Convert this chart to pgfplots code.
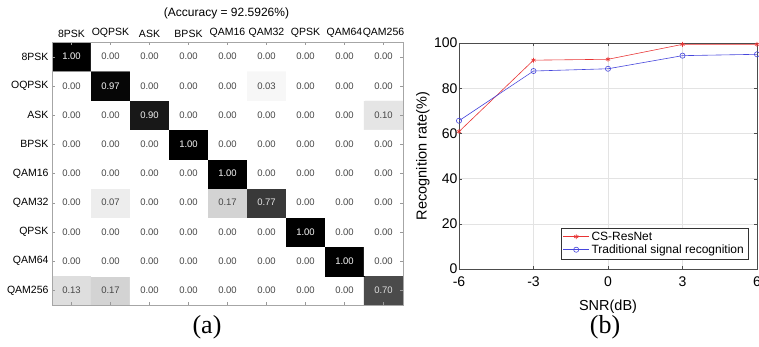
\documentclass[border=0pt]{standalone}
\usepackage{pgfplots}
\pgfplotsset{compat=1.18}
\usepackage{pgfplotstable}
\usepackage{fontspec}
\setmainfont{Liberation Sans}
\newfontfamily\seriffont{Liberation Serif}

\pgfplotstableread{
x y v
0 0 0.13
1 0 0.17
2 0 0
3 0 0
4 0 0
5 0 0
6 0 0
7 0 0
8 0 0.70
0 1 0
1 1 0
2 1 0
3 1 0
4 1 0
5 1 0
6 1 0
7 1 1.00
8 1 0
0 2 0
1 2 0
2 2 0
3 2 0
4 2 0
5 2 0
6 2 1.00
7 2 0
8 2 0
0 3 0
1 3 0.07
2 3 0
3 3 0
4 3 0.17
5 3 0.77
6 3 0
7 3 0
8 3 0
0 4 0
1 4 0
2 4 0
3 4 0
4 4 1.00
5 4 0
6 4 0
7 4 0
8 4 0
0 5 0
1 5 0
2 5 0
3 5 1.00
4 5 0
5 5 0
6 5 0
7 5 0
8 5 0
0 6 0
1 6 0
2 6 0.90
3 6 0
4 6 0
5 6 0
6 6 0
7 6 0
8 6 0.10
0 7 0
1 7 0.97
2 7 0
3 7 0
4 7 0
5 7 0.03
6 7 0
7 7 0
8 7 0
0 8 1.00
1 8 0
2 8 0
3 8 0
4 8 0
5 8 0
6 8 0
7 8 0
8 8 0
}\cmtab

\pgfplotstableread{
x y v
8 0 0.70
7 1 1.00
6 2 1.00
5 3 0.77
4 4 1.00
3 5 1.00
2 6 0.90
1 7 0.97
0 8 1.00
}\darktab

\pgfplotstableread{
x csres trad
-6 60.8 65.6
-3 92.4 87.6
0 92.8 88.6
3 99.4 94.4
6 99.4 95.0
}\snrtab

\definecolor{mred}{RGB}{232,52,52}
\definecolor{mblue}{RGB}{70,70,220}

\begin{document}
\begin{tikzpicture}
\useasboundingbox (0pt,0pt) rectangle (759pt,346pt);

\begin{axis}[
  at={(52pt,41pt)}, anchor=south west,
  scale only axis, width=351pt, height=263pt,
  xmin=-0.5, xmax=8.5, ymin=-0.5, ymax=8.5,
  xtick={0,...,8}, ytick={0,...,8},
  xticklabels={8PSK,OQPSK,ASK,BPSK,QAM16,QAM32,QPSK,QAM64,QAM256},
  yticklabels={QAM256,QAM64,QPSK,QAM32,QAM16,BPSK,ASK,OQPSK,8PSK},
  xticklabel pos=upper,
  xticklabel style={font=\fontsize{10.5}{12}\selectfont, inner sep=1pt, yshift=3pt},
  yticklabel style={font=\fontsize{10.5}{12}\selectfont},
  major tick length=3pt,
  tick style={gray!80},
  axis line style={gray!70},
  colormap={bw}{gray(0cm)=(1); gray(1cm)=(0)},
  point meta min=0, point meta max=1,
  axis on top,
]
\addplot[matrix plot*, mesh/cols=9, point meta=explicit] table[x=x,y=y,meta=v]{\cmtab};
\addplot[draw=none, mark=none, point meta=explicit,
  nodes near coords={\pgfmathprintnumber[fixed,fixed zerofill,precision=2,assume math mode=true]{\pgfplotspointmeta}},
  every node near coord/.style={anchor=center, font=\fontsize{9.5}{11}\selectfont, text=black!72}]
  table[x=x,y=y,meta=v]{\cmtab};
\addplot[draw=none, mark=none, point meta=explicit,
  nodes near coords={\pgfmathprintnumber[fixed,fixed zerofill,precision=2,assume math mode=true]{\pgfplotspointmeta}},
  every node near coord/.style={anchor=center, font=\fontsize{9.5}{11}\selectfont, text=white!88!black}]
  table[x=x,y=y,meta=v]{\darktab};
\end{axis}

\node[font=\fontsize{12}{14}\selectfont] at (226.5pt,333pt) {(Accuracy = 92.5926\%)};
\node[font=\seriffont\fontsize{26}{30}\selectfont] at (207pt,19pt) {(a)};

\begin{axis}[
  at={(459pt,77pt)}, anchor=south west,
  scale only axis, width=298pt, height=226pt,
  xmin=-6, xmax=6, ymin=0, ymax=100,
  xtick={-6,-3,0,3,6}, ytick={0,20,40,60,80,100},
  /pgf/number format/assume math mode=true,
  grid=major, grid style={gray!22, line width=0.5pt},
  axis line style={gray!60!black},
  tick style={gray!60!black},
  major tick length=3pt,
  ticklabel style={font=\fontsize{14}{16}\selectfont},
  yticklabel style={xshift=2pt},
  xticklabel style={yshift=-4pt},
  xlabel={SNR(dB)}, ylabel={Recognition rate(\%)},
  label style={font=\fontsize{14.5}{17}\selectfont},
  xlabel style={at={(axis description cs:0.5,-0.168)}, anchor=center},
  ylabel style={at={(axis description cs:-0.121,0.5)}, anchor=center},
  legend style={at={(axis description cs:1,0)}, anchor=south east, xshift=-9pt, yshift=10pt,
    font=\fontsize{12}{14}\selectfont, draw=black!80, inner sep=2pt, row sep=-1pt,
    cells={anchor=west}},
  legend image code/.code={\draw[mark repeat=2,mark phase=2,#1] plot coordinates {(0pt,0pt)(13pt,0pt)(26pt,0pt)};},
]
\addplot[mred, line width=0.6pt, mark=asterisk, mark size=2.4pt] table[x=x,y=csres]{\snrtab};
\addlegendentry{CS-ResNet}
\addplot[mblue, line width=0.6pt, mark=o, mark size=2.6pt] table[x=x,y=trad]{\snrtab};
\addlegendentry{Traditional signal recognition}
\end{axis}

\node[font=\seriffont\fontsize{26}{30}\selectfont] at (605pt,19pt) {(b)};
\end{tikzpicture}
\end{document}
